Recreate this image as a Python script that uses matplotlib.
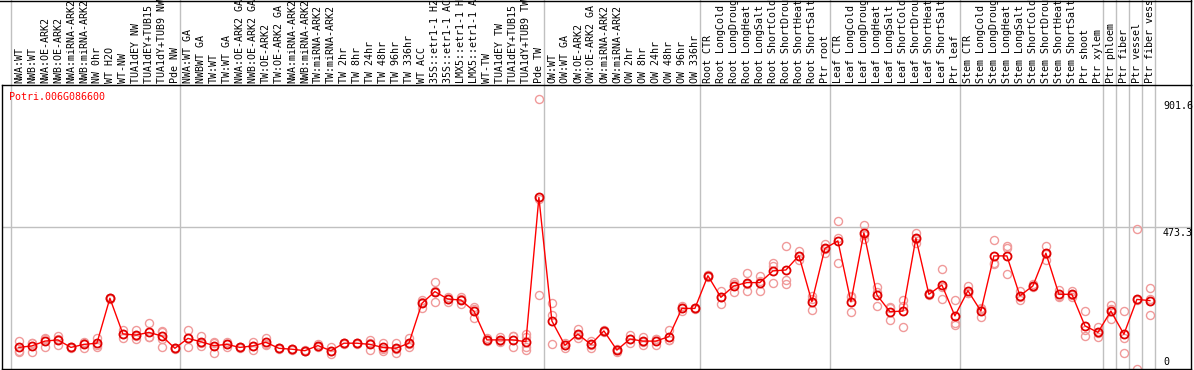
import matplotlib
matplotlib.use('Agg')
import matplotlib.pyplot as plt
import matplotlib.transforms as mtransforms
from matplotlib.lines import Line2D

gene = 'Potri.006G086600'

labels = [
    'NWA:WT', 'NWB:WT', 'NWA:OE-ARK2', 'NWB:OE-ARK2', 'NWA:miRNA-ARK2', 'NWB:miRNA-ARK2',
    'NW 0hr', 'WT H2O', 'WT-NW', 'TUA1dEY NW', 'TUA1dEY+TUB15 NW', 'TUA1dY+TUB9 NW', 'Pde NW',
    'NWA:WT GA', 'NWBWT GA', 'TW:WT', 'TW:WT GA', 'NWA:OE-ARK2 GA', 'NWB:OE-ARK2 GA',
    'TW:OE-ARK2', 'TW:OE-ARK2 GA', 'NWA:miRNA-ARK2', 'NWB:miRNA-ARK2', 'TW:miRNA-ARK2',
    'TW:miRNA-ARK2', 'TW 2hr', 'TW 8hr', 'TW 24hr', 'TW 48hr', 'TW 96hr', 'TW 336hr', 'WT ACC',
    '35S::etr1-1 H2O', '35S::etr1-1 ACC', 'LMX5::etr1-1 H2O', 'LMX5::etr1-1 ACC', 'WT-TW',
    'TUA1dEY TW', 'TUA1dEY+TUB15 TW', 'TUA1dY+TUB9 TW', 'Pde TW',
    'OW:WT', 'OW:WT GA', 'OW:OE-ARK2', 'OW:OE-ARK2 GA', 'OW:miRNA-ARK2', 'OW:miRNA-ARK2',
    'OW 2hr', 'OW 8hr', 'OW 24hr', 'OW 48hr', 'OW 96hr', 'OW 336hr',
    'Root CTR', 'Root LongCold', 'Root LongDrought', 'Root LongHeat', 'Root LongSalt',
    'Root ShortCold', 'Root ShortDrought', 'Root ShortHeat', 'Root ShortSalt', 'Ptr root',
    'Leaf CTR', 'Leaf LongCold', 'Leaf LongDrought', 'Leaf LongHeat', 'Leaf LongSalt',
    'Leaf ShortCold', 'Leaf ShortDrought', 'Leaf ShortHeat', 'Leaf ShortSalt', 'Ptr leaf',
    'Stem CTR', 'Stem LongCold', 'Stem LongDrought', 'Stem LongHeat', 'Stem LongSalt',
    'Stem ShortCold', 'Stem ShortDrought', 'Stem ShortHeat', 'Stem ShortSalt', 'Ptr shoot',
    'Ptr xylem', 'Ptr phloem', 'Ptr fiber', 'Ptr vessel', 'Ptr fiber vessel',
]

means = [
    72, 77, 93, 97, 72, 82, 86, 236, 117, 113, 122, 110, 69,
    102, 91, 78, 82, 72, 77, 89, 69, 66, 61, 78, 61, 86, 86, 82, 72, 69, 86, 219,
    258, 233, 230, 193, 97, 97, 97, 91, 572,
    160, 79, 116, 82, 127, 63, 100, 93, 93, 108, 202, 202,
    311, 239, 277, 288, 288, 327, 330, 378, 224, 402,
    427, 224, 454, 247, 191, 193, 436, 249, 280, 177,
    261, 193, 377, 377, 244, 277, 386, 249, 249, 144,
    122, 193, 116, 232, 228,
]

reps = [
    [93, 61, 58], [86, 58, 86], [104, 74, 100], [110, 80, 100], [74, 70, 72],
    [91, 69, 86], [104, 74, 80], [238, 232, 238], [130, 102, 118], [130, 99, 110],
    [154, 106, 106], [128, 124, 99, 74], [71, 67, 69],
    [130, 74, 102], [110, 77, 86], [91, 54, 88], [91, 74, 82], [74, 70, 72],
    [91, 63, 77], [102, 80, 85], [71, 67, 69], [68, 64, 66], [63, 59, 61],
    [82, 74, 78], [74, 49, 60], [88, 82, 88], [88, 84, 86], [97, 63, 86],
    [88, 61, 67], [88, 52, 67], [102, 74, 82], [224, 204, 229], [289, 224, 261],
    [241, 224, 234], [241, 217, 232], [200, 171, 208], [102, 92, 97], [106, 90, 95],
    [110, 72, 109], [117, 108, 74, 63], [901.6, 247, 567],
    [219, 180, 82], [88, 69, 80], [132, 102, 114], [94, 71, 81], [130, 124, 127],
    [66, 58, 65], [113, 86, 101], [108, 80, 91], [100, 80, 99], [130, 97, 97],
    [211, 193, 202], [205, 199, 202],
    [315, 306, 312], [260, 216, 241], [291, 256, 284], [319, 260, 285], [310, 260, 294],
    [352, 286, 343], [410, 297, 283], [393, 363, 378], [243, 197, 232], [417, 388, 401],
    [493, 438, 354], [243, 189, 240], [480, 447, 435], [274, 210, 257], [208, 163, 202],
    [230, 139, 210], [454, 419, 435], [252, 246, 249], [333, 233, 274], [230, 152, 148],
    [278, 252, 253], [205, 174, 200], [430, 352, 349], [411, 404, 316], [261, 230, 241],
    [282, 272, 277], [411, 363, 384], [263, 240, 244], [260, 240, 247], [193, 110, 129],
    [141, 106, 119], [213, 166, 200], [193, 102, 52], [466, 0, 230], [269, 180, 235],
]

# index of the first column of each block (a grey line goes before it)
group_starts = [0, 13, 41, 53, 63, 73, 84, 85, 86, 87, 88]

W, H = 1194, 370
x0px, step = 18.9, 13.0
left_px, right_px, top_px, bot_px = 1.7, 1191, 85, 369

fig = plt.figure(figsize=(W / 100, H / 100), dpi=100)
ax = fig.add_axes([left_px / W, (H - bot_px) / H, (right_px - left_px) / W, (bot_px - top_px) / H])
ax.set_xlim((left_px - x0px) / step, (right_px - x0px) / step)
top_val = max(max(r) for r in reps)
ymax = top_val * 1.05
ax.set_ylim(0, ymax)
ax.set_xticks([])
ax.set_yticks([])
for s in ax.spines.values():
    s.set_color('black')
    s.set_linewidth(1)

grey = '#c0c0c0'
ext = 1 + top_px / (bot_px - top_px)
for g in group_starts:
    ax.axvline(g - 0.6, ymin=0, ymax=ext, color=grey, lw=1, clip_on=False, zorder=0)
ax.axhline(ymax / 2, color=grey, lw=1, zorder=0)

# right border continues up through the label area, plus a line along the top edge
fig.add_artist(Line2D([right_px / W, right_px / W], [(H - top_px) / H, 1], color='black', lw=1))
fig.add_artist(Line2D([0, right_px / W], [1 - 0.5 / H, 1 - 0.5 / H], color='black', lw=1))

xs = list(range(len(labels)))
for i, r in enumerate(reps):
    ax.plot([i] * len(r), r, 'o', ms=5.8, mfc='none', mec='#f09a9a', mew=1, zorder=2, clip_on=False)
ax.plot(xs, means, '-', color='red', lw=1, zorder=3)
ax.plot(xs, means, 'o', ms=5.8, mfc='none', mec='#e00000', mew=1.3, zorder=4)

mono = 'DejaVu Sans Mono'
trans = mtransforms.blended_transform_factory(ax.transData, ax.transAxes)
for i, lab in enumerate(labels):
    ax.text(i, 1 + 2 / (bot_px - top_px), lab, rotation=90, ha='center', va='bottom',
            fontsize=7.2, family=mono, transform=trans, clip_on=False)

vx = (1163 - x0px) / step
ax.text(vx, top_val - 8, f'{top_val:.1f}', ha='left', va='top', fontsize=7.2, family=mono)
ax.text(vx, ymax / 2 - 5, f'{ymax / 2:.1f}', ha='left', va='top', fontsize=7.2, family=mono)
ax.text(vx, 6, '0', ha='left', va='bottom', fontsize=7.2, family=mono)

fig.text(9.3 / W, 1 - 97 / H, gene, color='red', ha='left', va='center', fontsize=7.2, family=mono)

fig.savefig('out.png', dpi=100)
